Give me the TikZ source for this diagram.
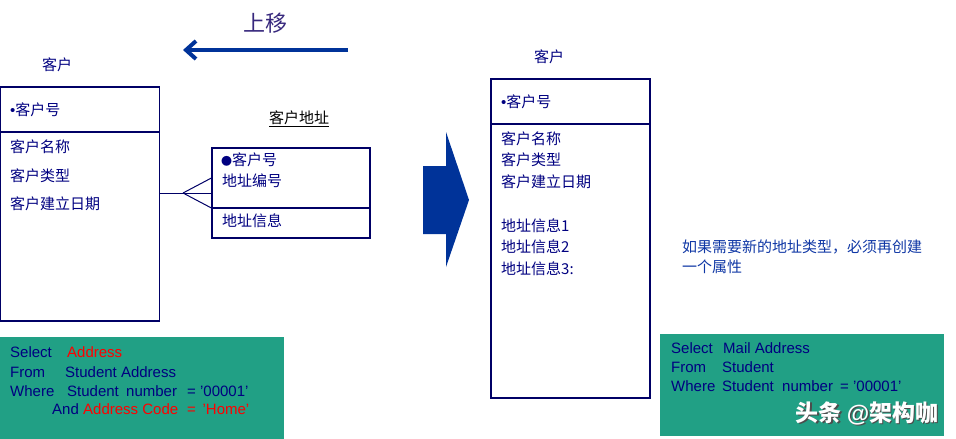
\documentclass[tikz,border=0pt]{standalone}
\usepackage{fontspec}
\setmainfont{Liberation Sans}
\newfontfamily\cjk{Noto Sans CJK SC}
\usetikzlibrary{arrows.meta}

\definecolor{boxline}{RGB}{0,0,102}
\definecolor{ink}{RGB}{0,0,128}
\definecolor{sqlgreen}{RGB}{33,160,133}
\definecolor{arrowblue}{RGB}{0,51,153}
\definecolor{notebl}{RGB}{15,55,165}
\definecolor{titleink}{RGB}{55,40,125}

\tikzstyle{entity} = [draw=boxline, line width=1.2pt, inner sep=0pt]
\tikzstyle{field} = [anchor=west, inner sep=0pt, text=ink, font=\cjk\fontsize{15}{15}\selectfont]
\tikzstyle{sql} = [anchor=west, inner sep=0pt, text=ink, font=\fontsize{15}{15}\selectfont]
\tikzstyle{sqlred} = [sql, text=red]
\tikzstyle{sqlbox} = [fill=sqlgreen, inner sep=0pt, anchor=north west]

\begin{document}
\begin{tikzpicture}[x=1pt,y=-1pt]
      \useasboundingbox (0,0) rectangle (956,439);
      % move up
      \node[text=titleink, font=\cjk\fontsize{22}{22}\selectfont] (up) at (265,23) {上移};
      \coordinate (upstart) at (348,50);
      \coordinate (upend) at (183,50);
      \draw[arrowblue, line width=4pt, -{Straight Barb[length=10pt,width=18pt]}] (upstart) -- (upend);

      % customer with address table
      \node[field, anchor=center] (t1) at (57,65) {客户};
      \node[entity, minimum width=159pt, minimum height=234pt] (cust) at (80,204) {};
      \draw[boxline, line width=1.2pt] (cust.west |- 0,132) -- (cust.east |- 0,132);
      \node[field] (c1) at (10,110) {{\rmfamily •}客户号};
      \node[field] (c2) at (10,147) {客户名称};
      \node[field] (c3) at (10,176) {客户类型};
      \node[field] (c4) at (10,204) {客户建立日期};

      \node[field, anchor=center, text=black] (t2) at (299,119) {\underline{客户地址}};
      \node[entity, minimum width=158pt, minimum height=90pt] (addr) at (291,193) {};
      \draw[boxline, line width=1.2pt] (addr.west |- 0,208) -- (addr.east |- 0,208);
      \node[field] (a1) at (221,160) {{\fontsize{11}{11}\selectfont ●}客户号};
      \node[field] (a2) at (222,181) {地址编号};
      \node[field] (a3) at (222,221) {地址信息};

      \coordinate (fork) at (183,193);
      \draw[boxline, line width=1pt] (cust.east |- addr.west) -- (addr.west);
      \draw[boxline, line width=1pt] (fork) -- (addr.west |- 0,178);
      \draw[boxline, line width=1pt] (fork) -- (addr.west |- 0,208);

      % big arrow
      \fill[arrowblue] (423,166) -- (446,166) -- (446,132) -- (469,200) -- (446,267) -- (446,234) -- (423,234) -- cycle;

      % customer, flat
      \node[field, anchor=center] (t3) at (549,57) {客户};
      \node[entity, minimum width=159pt, minimum height=319pt] (newcust) at (570.5,238.5) {};
      \draw[boxline, line width=2pt] (newcust.west |- 0,124) -- (newcust.east |- 0,124);
      \node[field] (n1) at (501,102) {{\rmfamily •}客户号};
      \node[field] (n2) at (501,139) {客户名称};
      \node[field] (n3) at (501,160) {客户类型};
      \node[field] (n4) at (501,182) {客户建立日期};
      \node[field] (n5) at (501,226) {地址信息1};
      \node[field] (n6) at (501,247) {地址信息2};
      \node[field] (n7) at (501,269) {地址信息3:};

      \node[field, text=notebl] (note1) at (682,247) {如果需要新的地址类型，必须再创建};
      \node[field, text=notebl] (note2) at (682,267) {一个属性};

      % queries
      \node[sqlbox, minimum width=284pt, minimum height=102pt] (sql1) at (0,337) {};
      \node[sql] (s1) at (10,352) {Select};
      \node[sqlred] (s1r) at (67,352) {Address};
      \node[sql] (s2) at (10,372) {From};
      \node[sql] (s2b) at (65,372) {Student Address};
      \node[sql] (s3) at (10,391) {Where};
      \node[sql] (s3b) at (67,391) {Student};
      \node[sql] (s3c) at (126,391) {number};
      \node[sql] (s3d) at (187,391) {= '00001'};
      \node[sql] (s4) at (52,409) {And};
      \node[sqlred] (s4r) at (83,409) {Address Code};
      \node[sqlred] (s4c) at (187,409) {= \,'Home'};

      \node[sqlbox, minimum width=284pt, minimum height=102pt] (sql2) at (660,334) {};
      \node[sql] (r1) at (671,348) {Select};
      \node[sql] (r1b) at (723,348) {Mail Address};
      \node[sql] (r2) at (671,367) {From};
      \node[sql] (r2b) at (722,367) {Student};
      \node[sql] (r3) at (671,386) {Where};
      \node[sql] (r3b) at (722,386) {Student};
      \node[sql] (r3c) at (782,386) {number};
      \node[sql] (r3d) at (840,386) {= '00001’};

      \node[text=black!70, font=\cjk\bfseries\fontsize{23}{23}\selectfont] (markshadow) at (868.5,414.5) {头条 {\rmfamily @}架构咖};
      \node[text=white, font=\cjk\bfseries\fontsize{23}{23}\selectfont] (mark) at (867,413) {头条 {\rmfamily @}架构咖};
\end{tikzpicture}
\end{document}
